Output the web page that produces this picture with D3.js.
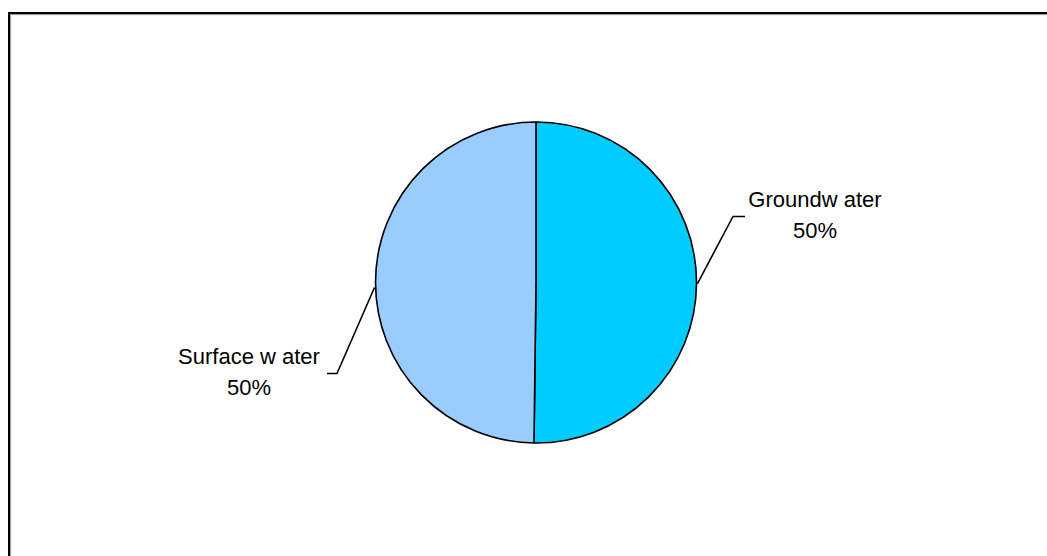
<!DOCTYPE html>
<html>
<head>
<meta charset="utf-8">
<script src="https://cdn.jsdelivr.net/npm/d3@7"></script>
<style>
  html, body { margin: 0; padding: 0; background: #fff; }
  svg { display: block; }
  text { font-family: "Liberation Sans", Arial, sans-serif; }
</style>
</head>
<body>
<script>
// ---- data ----
const categories = ["Groundw ater", "Surface w ater"];
const values = [50.2, 49.8];
const percentLabels = ["50%", "50%"];
const colors = ["#00CCFF", "#99CCFF"];

// ---- layout ----
const W = 1047, H = 556;
const cx = 536, cy = 282.5, R = 160.5;

const svg = d3.select("body").append("svg")
  .attr("width", W).attr("height", H);

// frame (extends beyond right and bottom edges) with a grey shadow
svg.append("rect")
  .attr("x", 10.5).attr("y", 14.5)
  .attr("width", W + 20).attr("height", H + 20)
  .attr("fill", "none").attr("stroke", "#999").attr("stroke-width", 1.2);
svg.append("rect")
  .attr("x", 9).attr("y", 13)
  .attr("width", W + 20).attr("height", H + 20)
  .attr("fill", "none").attr("stroke", "#000").attr("stroke-width", 2);

const data = categories.map((c, i) => ({ name: c, value: values[i], pct: percentLabels[i], color: colors[i] }));

const pie = d3.pie().sort(null).value(d => d.value).startAngle(0).endAngle(2 * Math.PI);
const arcs = pie(data);
const arc = d3.arc().innerRadius(0).outerRadius(R);

const g = svg.append("g").attr("transform", `translate(${cx},${cy})`);

g.selectAll("path.slice").data(arcs).enter().append("path")
  .attr("class", "slice")
  .attr("d", arc)
  .attr("fill", d => d.data.color)
  .attr("stroke", "#000")
  .attr("stroke-width", 1.6)
  .attr("stroke-linejoin", "round");

// label layout (offsets relative to centre)
const labelLayout = [
  { elbow: [197, -66], end: [209, -66], text: [279, -76], dir: 1 },
  { elbow: [-199, 91], end: [-209, 91], text: [-287, 81], dir: -1 }
];

arcs.forEach((a, i) => {
  const mid = (a.startAngle + a.endAngle) / 2;
  const sx = Math.sin(mid) * (R + 1), sy = -Math.cos(mid) * (R + 1) + (i === 1 ? 6 : 0);
  const L = labelLayout[i];
  g.append("polyline")
    .attr("points", [[sx, sy], L.elbow, L.end].map(p => p.join(",")).join(" "))
    .attr("fill", "none").attr("stroke", "#000").attr("stroke-width", 1.6);
  const t = g.append("text")
    .attr("x", L.text[0]).attr("y", L.text[1])
    .attr("text-anchor", "middle")
    .attr("font-size", 22)
    .attr("fill", "#000");
  t.append("tspan").attr("x", L.text[0]).attr("dy", 0).text(a.data.name);
  t.append("tspan").attr("x", L.text[0]).attr("dy", 31.5).text(a.data.pct);
});
</script>
</body>
</html>
